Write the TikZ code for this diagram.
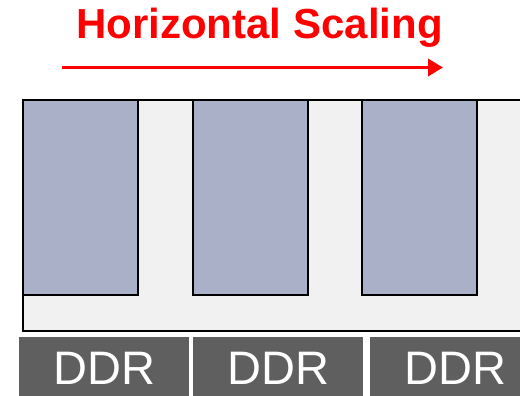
\documentclass[tikz,border=0pt]{standalone}
\usepackage{fontspec}
\setmainfont{Liberation Sans}
\usepackage{tikz}
\usetikzlibrary{arrows.meta, positioning}

\definecolor{scalered}{RGB}{255,0,0}
\definecolor{boardgray}{RGB}{241,241,241}
\definecolor{chipblue}{RGB}{169,176,200}
\definecolor{ddrgray}{RGB}{95,95,95}

\begin{document}
\begin{tikzpicture}[
    x=1pt, y=-1pt,
    board/.style={rectangle, draw=black, fill=boardgray, line width=2pt, anchor=north west, minimum width=520pt, minimum height=231pt, inner sep=0pt},
    chip/.style={rectangle, draw=black, fill=chipblue, line width=2pt, anchor=north west, minimum width=115pt, minimum height=195pt, inner sep=0pt},
    ddr/.style={rectangle, fill=ddrgray, text=white, anchor=north west, minimum width=170pt, minimum height=62pt, inner sep=0pt, font=\fontsize{47}{47}\selectfont},
    title/.style={text=scalered, font=\fontsize{42}{42}\selectfont\bfseries, inner sep=0pt},
    arrow/.style={-{Triangle[length=15pt, width=17pt]}, draw=scalered, line width=3.5pt}
]
\useasboundingbox (0,0) rectangle (520,396);
\clip (0,0) rectangle (520,396);

% Title
\node[title] (title) at (259.5,28) {Horizontal Scaling};
\coordinate (arrow_start) at (62,67.5);
\coordinate (arrow_end) at (443,67.5);

% Board
\node[board] (board) at (22,99) {};

% Chips
\foreach \i in {0,1,2}
  \node[chip] (chip\i) at (22+169.5*\i,99) {};

% Memory
\node[ddr] (ddr0) at (19,337) {DDR};
\node[ddr] (ddr1) at (193,337) {DDR};
\node[ddr] (ddr2) at (370,337) {DDR};

% Connections
\draw[arrow] (arrow_start) -- (arrow_end);

\end{tikzpicture}
\end{document}
